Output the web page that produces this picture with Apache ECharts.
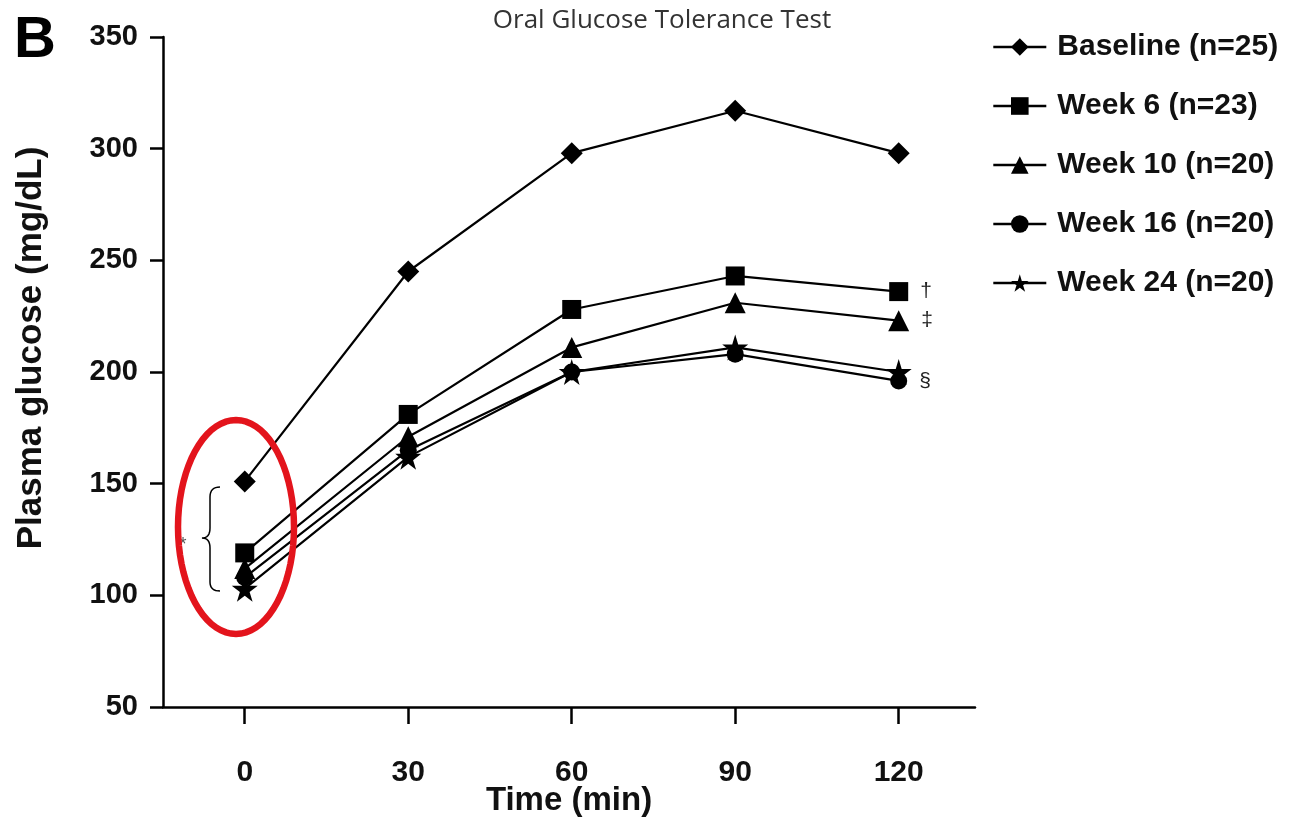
<!DOCTYPE html>
<html>
<head>
<meta charset="utf-8">
<script src="https://cdn.jsdelivr.net/npm/echarts@6/dist/echarts.min.js"></script>
<style>
  html, body { margin: 0; padding: 0; background: #fff; }
  #chart { width: 1294px; height: 820px; }
</style>
</head>
<body>
<div id="chart"></div>
<script>
// OGTT values
const times = [0, 30, 60, 90, 120];
const baseline = [151, 245, 298, 317, 298];
const week6 = [119, 181, 228, 243, 236];
const week10 = [112, 171, 211, 231, 223];
const week16 = [108, 165, 200, 208, 196];
const week24 = [103, 162, 200, 211, 200];
const seriesNames = ['Baseline (n=25)', 'Week 6 (n=23)', 'Week 10 (n=20)', 'Week 16 (n=20)', 'Week 24 (n=20)'];
const endMarks = ['', '†', '‡', '§', ''];
const xTicks = [0, 30, 60, 90, 120];

const FONT = '"Liberation Sans", Arial, sans-serif';
const starPath = 'path://M50,0 L61,35 L98,35 L68,57 L79,91 L50,70 L21,91 L32,57 L2,35 L39,35 Z';

function makeSeries(name, vals, symbol, size, mark) {
  return {
    name: name,
    type: 'line',
    symbol: symbol,
    symbolSize: size,
    lineStyle: { color: '#000', width: 2.2 },
    itemStyle: { color: '#000' },
    z: 3,
    data: vals.map((v, i) => {
      let d = { value: [times[i], v] };
      if (mark && i === vals.length - 1) {
        d.label = {
          show: true, position: 'right', distance: 12, formatter: mark,
          fontFamily: FONT, fontSize: 21, color: '#222'
        };
      }
      return d;
    })
  };
}

let chart = echarts.init(document.getElementById('chart'));

chart.setOption({
  backgroundColor: '#fff',
  animation: false,
  title: {
    text: 'Oral Glucose Tolerance Test',
    left: 657, top: 3, textAlign: 'center',
    textStyle: { fontFamily: '"Open Sans", "Noto Sans", sans-serif', fontWeight: 'normal', fontSize: 26, color: '#333' }
  },
  legend: {
    orient: 'vertical',
    left: 987, top: 27,
    itemWidth: 53, itemHeight: 22,
    itemGap: 29,
    lineStyle: { width: 2.6 },
    textStyle: { fontFamily: FONT, fontWeight: 'bold', fontSize: 30, color: '#111', lineHeight: 30, padding: [0, 0, 0, 6] },
    data: seriesNames
  },
  grid: { left: 163, right: 319, top: 37, bottom: 113, containLabel: false, outerBoundsMode: 'none' },
  xAxis: {
    type: 'value',
    min: -15, max: 134,
    name: 'Time (min)',
    nameLocation: 'middle',
    nameGap: 77,
    nameMoveOverlap: false,
    nameTextStyle: { fontFamily: FONT, fontWeight: 'bold', fontSize: 33, color: '#111' },
    axisLine: { show: true, onZero: false, lineStyle: { color: '#000', width: 2.5 } },
    axisTick: { show: true, length: 17, customValues: xTicks, lineStyle: { color: '#000', width: 2.5 } },
    axisLabel: { customValues: xTicks, margin: 51, fontFamily: FONT, fontWeight: 'bold', fontSize: 30, color: '#111' },
    splitLine: { show: false }
  },
  yAxis: {
    type: 'value',
    min: 50, max: 350, interval: 50,
    axisLine: { show: true, onZero: false, lineStyle: { color: '#000', width: 2.5 } },
    axisTick: { show: true, length: 13, lineStyle: { color: '#000', width: 2.5 } },
    axisLabel: { margin: 25, fontFamily: FONT, fontWeight: 'bold', fontSize: 29, color: '#111' },
    splitLine: { show: false }
  },
  series: [
    makeSeries(seriesNames[0], baseline, 'diamond', 22, endMarks[0]),
    makeSeries(seriesNames[1], week6, 'rect', 19, endMarks[1]),
    makeSeries(seriesNames[2], week10, 'triangle', 21, endMarks[2]),
    makeSeries(seriesNames[3], week16, 'circle', 17, endMarks[3]),
    makeSeries(seriesNames[4], week24, starPath, 26, endMarks[4])
  ]
});

// annotations: panel letter, y title, red ellipse, brace and asterisk
let ellipsePts = [];
for (let k = 0; k <= 72; k++) {
  let a = k / 72 * Math.PI * 2;
  ellipsePts.push([236 + 58 * Math.cos(a), 527 + 107 * Math.sin(a)]);
}
let bracePts = [];
function q(p0, p1, p2) {
  for (let t = 0; t <= 1.0001; t += 0.125) {
    bracePts.push([
      (1 - t) * (1 - t) * p0[0] + 2 * (1 - t) * t * p1[0] + t * t * p2[0],
      (1 - t) * (1 - t) * p0[1] + 2 * (1 - t) * t * p1[1] + t * t * p2[1]
    ]);
  }
}
q([220, 487], [210, 487], [210, 497]);
q([210, 528], [210, 538], [202, 538]);
q([202, 538], [210, 538], [210, 548]);
q([210, 582], [210, 591], [220, 591]);

chart.setOption({
  graphic: [
    { type: 'text', left: 14, top: 12, style: { text: 'B', font: 'bold 58px ' + FONT, fill: '#000' } },
    {
      type: 'text', x: 31, y: 348, rotation: Math.PI / 2,
      style: { text: 'Plasma glucose (mg/dL)', font: 'bold 35px ' + FONT, fill: '#111', align: 'center', verticalAlign: 'middle' }
    },
    { type: 'polyline', shape: { points: bracePts }, style: { stroke: '#000', lineWidth: 1.5, fill: null } },
    { type: 'text', x: 183, y: 545, style: { text: '*', font: '18px ' + FONT, fill: '#555', align: 'center', verticalAlign: 'middle' } },
    { type: 'polygon', shape: { points: ellipsePts }, style: { stroke: '#e3141c', lineWidth: 6.5, fill: null }, z: 100 }
  ]
});
</script>
</body>
</html>
